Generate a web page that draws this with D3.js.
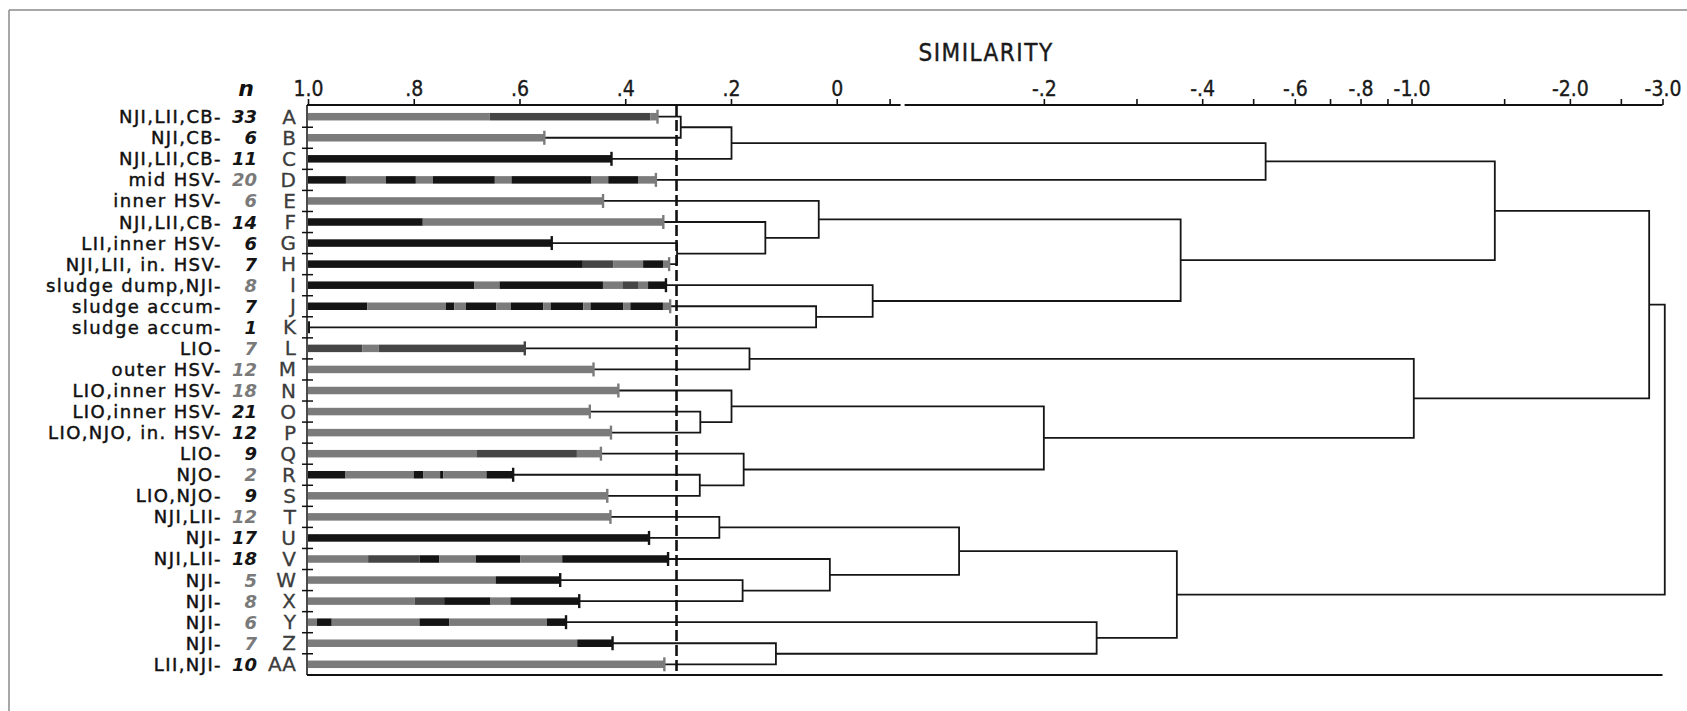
<!DOCTYPE html>
<html>
<head>
<meta charset="utf-8">
<script src="https://cdn.jsdelivr.net/npm/d3@7"></script>
<style>
  html, body { margin: 0; padding: 0; background: #fff; }
  svg { display: block; }
</style>
</head>
<body>
<svg id="chart" width="1687" height="711"></svg>
<script>
// ---- station groups (rows, top to bottom) ----
const rowIds = ["A","B","C","D","E","F","G","H","I","J","K","L","M","N","O","P","Q","R","S","T","U","V","W","X","Y","Z","AA"];

const siteLabels = [
  "NJI,LII,CB-", "NJI,CB-", "NJI,LII,CB-", "mid HSV-", "inner HSV-", "NJI,LII,CB-",
  "LII,inner HSV-", "NJI,LII, in. HSV-", "sludge dump,NJI-", "sludge accum-", "sludge accum-",
  "LIO-", "outer HSV-", "LIO,inner HSV-", "LIO,inner HSV-", "LIO,NJO, in. HSV-",
  "LIO-", "NJO-", "LIO,NJO-", "NJI,LII-", "NJI-", "NJI,LII-", "NJI-", "NJI-", "NJI-", "NJI-", "LII,NJI-"
];

// number of samples in each group
const groupSizes = [33, 6, 11, 20, 6, 14, 6, 7, 8, 7, 1, 7, 12, 18, 21, 12, 9, 2, 9, 12, 17, 18, 5, 8, 6, 7, 10];
// k = printed dark, g = printed grey
const groupSizeTone = ["k","k","k","g","g","k","k","k","g","k","k","g","g","g","k","k","k","g","k","g","k","k","g","g","g","g","k"];

// mean within-group similarity (K is a single sample)
const withinSimilarity = [0.339, 0.553, 0.426, 0.342, 0.442, 0.328, 0.539, 0.317, 0.323, 0.315, null,
  0.590, 0.460, 0.413, 0.467, 0.427, 0.446, 0.612, 0.434, 0.428, 0.355, 0.319, 0.523, 0.487, 0.512, 0.424, 0.326];

// bar make-up: [cumulative fraction of bar, tone]
const barComposition = [
  [[0.52,"g"],[0.98,"d"],[1,"g"]],
  [[1,"g"]],
  [[1,"k"]],
  [[0.109,"k"],[0.224,"g"],[0.31,"k"],[0.359,"g"],[0.537,"k"],[0.585,"g"],[0.815,"k"],[0.863,"g"],[0.95,"k"],[1,"g"]],
  [[1,"g"]],
  [[0.323,"k"],[1,"g"]],
  [[1,"k"]],
  [[0.761,"k"],[0.845,"d"],[0.928,"g"],[0.983,"k"],[1,"g"]],
  [[0.465,"k"],[0.535,"g"],[0.824,"k"],[0.88,"g"],[0.922,"d"],[0.95,"g"],[1,"k"]],
  [[0.164,"k"],[0.381,"g"],[0.404,"k"],[0.436,"g"],[0.52,"k"],[0.56,"g"],[0.65,"k"],[0.67,"g"],[0.76,"k"],[0.78,"g"],[0.87,"k"],[0.89,"g"],[0.98,"k"],[1,"g"]],
  [],
  [[0.25,"d"],[0.326,"g"],[1,"d"]],
  [[1,"g"]],
  [[1,"g"]],
  [[1,"g"]],
  [[1,"g"]],
  [[0.577,"g"],[0.918,"d"],[1,"g"]],
  [[0.183,"k"],[0.515,"g"],[0.563,"k"],[0.644,"g"],[0.66,"k"],[0.87,"g"],[1,"k"]],
  [[1,"g"]],
  [[1,"g"]],
  [[1,"k"]],
  [[0.167,"g"],[0.31,"d"],[0.365,"k"],[0.466,"g"],[0.59,"k"],[0.706,"g"],[1,"k"]],
  [[0.744,"g"],[1,"k"]],
  [[0.393,"g"],[0.502,"d"],[0.673,"k"],[0.746,"g"],[1,"k"]],
  [[0.035,"g"],[0.092,"k"],[0.432,"g"],[0.547,"k"],[0.926,"g"],[1,"k"]],
  [[0.884,"g"],[1,"k"]],
  [[1,"g"]]
];

// clustering sequence: [member, member, similarity at fusion]; "m<i>" refers to the i-th fusion
const fusions = [
  ["A", "B", 0.295],     // m0
  ["m0", "C", 0.199],    // m1
  ["m1", "D", -0.528],   // m2
  ["G", "H", 0.302],     // m3
  ["F", "m3", 0.135],    // m4
  ["E", "m4", 0.034],    // m5
  ["J", "K", 0.039],     // m6
  ["I", "m6", -0.068],   // m7
  ["m5", "m7", -0.364],  // m8
  ["m2", "m8", -1.44],   // m9
  ["L", "M", 0.165],     // m10
  ["O", "P", 0.258],     // m11
  ["N", "m11", 0.199],   // m12
  ["R", "S", 0.259],     // m13
  ["Q", "m13", 0.176],   // m14
  ["m12", "m14", -0.2],  // m15
  ["m10", "m15", -1.01], // m16
  ["m9", "m16", -2.83],  // m17
  ["T", "U", 0.222],     // m18
  ["W", "X", 0.178],     // m19
  ["V", "m19", 0.013],   // m20
  ["m18", "m20", -0.138],// m21
  ["Z", "AA", 0.115],    // m22
  ["Y", "m22", -0.252],  // m23
  ["m21", "m23", -0.358],// m24
  ["m17", "m24", -3.03]  // m25
];

const cutoffSimilarity = 0.303;

// axis ticks
const linearTicks = [1, 0.8, 0.6, 0.4, 0.2, 0, -0.1];
const linearTickLabels = ["1.0", ".8", ".6", ".4", ".2", "0", ""];
const logTicks = [0.2, 0.3, 0.4, 0.5, 0.6, 0.7, 0.8, 0.9, 1, 1.5, 2, 2.5, 3];
const logTickLabels = ["-.2", "", "-.4", "", "-.6", "", "-.8", "", "-1.0", "", "-2.0", "", "-3.0"];

// ---- drawing ----
const svg = d3.select("#chart");
const tone = { k: "#141414", d: "#454545", g: "#7b7b7b" };
const labelFont = "'DejaVu Sans', 'Liberation Sans', sans-serif";
const narrowFont = "'Liberation Sans Narrow', 'DejaVu Sans Condensed', 'Liberation Sans', sans-serif";

const axisY = 105, baseY = 675;

// similarity axis: linear down to -0.1, logarithmic in |s| beyond the break
const xLinear = d3.scaleLinear().domain([1, -0.1]).range([308, 889.6]);
const xLog = d3.scaleLog().domain([0.1, 3]).range([885.5, 1662.5]);
const x = s => (s >= -0.1 ? xLinear(s) : xLog(-s));
const y = d3.scalePoint().domain(rowIds).range([116.7, 664.3]);

// page frame
svg.append("line").attr("x1", 9).attr("x2", 1687).attr("y1", 10).attr("y2", 10)
  .attr("stroke", "#8a8a8a").attr("stroke-width", 1.5);
svg.append("line").attr("x1", 9).attr("x2", 9).attr("y1", 10).attr("y2", 711)
  .attr("stroke", "#8a8a8a").attr("stroke-width", 1.5);

// title
svg.append("text").attr("x", 986).attr("y", 61).attr("text-anchor", "middle")
  .attr("font-family", narrowFont).attr("font-size", 24).attr("letter-spacing", 1.5)
  .attr("fill", "#1a1a1a").attr("stroke", "#1a1a1a").attr("stroke-width", 0.4)
  .text("SIMILARITY");

// top axis
function styleAxis(g) {
  g.select(".domain").remove();
  g.selectAll(".tick line").attr("stroke", "#111").attr("stroke-width", 1.6);
  g.selectAll(".tick text").attr("font-family", narrowFont).attr("font-size", 21)
    .attr("fill", "#1a1a1a").attr("stroke", "#1a1a1a").attr("stroke-width", 0.35);
}
svg.append("g").attr("transform", `translate(0,${axisY})`)
  .call(d3.axisTop(xLinear).tickValues(linearTicks).tickSize(6).tickPadding(3)
    .tickFormat((d, i) => linearTickLabels[i]))
  .call(styleAxis);
svg.append("g").attr("transform", `translate(0,${axisY})`)
  .call(d3.axisTop(xLog).tickValues(logTicks).tickSize(6).tickPadding(3)
    .tickFormat((d, i) => logTickLabels[i]))
  .call(styleAxis);
// axis rule, broken just past -0.1
svg.append("line").attr("x1", xLinear(1) - 1).attr("x2", xLinear(-0.1) + 11)
  .attr("y1", axisY).attr("y2", axisY).attr("stroke", "#111").attr("stroke-width", 1.8);
svg.append("line").attr("x1", xLinear(-0.1) + 15).attr("x2", xLog(3))
  .attr("y1", axisY).attr("y2", axisY).attr("stroke", "#111").attr("stroke-width", 1.8);

// baseline and left rule
svg.append("line").attr("x1", xLinear(1) - 1).attr("x2", xLog(3))
  .attr("y1", baseY).attr("y2", baseY).attr("stroke", "#111").attr("stroke-width", 2);
svg.append("line").attr("x1", xLinear(1) - 1).attr("x2", xLinear(1) - 1)
  .attr("y1", axisY).attr("y2", baseY).attr("stroke", "#111").attr("stroke-width", 1.5);

// row separators on the left rule
const sepY = rowIds.slice(1).map((id, i) => (y(id) + y(rowIds[i])) / 2);
svg.append("g").selectAll("line").data(sepY).join("line")
  .attr("x1", xLinear(1) - 6).attr("x2", xLinear(1) + 5)
  .attr("y1", d => d).attr("y2", d => d)
  .attr("stroke", "#111").attr("stroke-width", 1.5);

// column header
svg.append("text").attr("x", 246).attr("y", 96).attr("text-anchor", "middle")
  .attr("font-family", labelFont).attr("font-size", 22).attr("font-weight", "bold")
  .attr("font-style", "italic").attr("fill", "#111").text("n");

// row labels
const rows = rowIds.map((id, i) => ({
  id, label: siteLabels[i], n: groupSizes[i], nTone: groupSizeTone[i],
  within: withinSimilarity[i], comp: barComposition[i]
}));

const labelG = svg.append("g");
labelG.selectAll("text.site").data(rows).join("text").attr("class", "site")
  .attr("x", 222).attr("y", d => y(d.id) + 6.5).attr("text-anchor", "end")
  .attr("font-family", labelFont).attr("font-size", 18).attr("letter-spacing", 1.4)
  .attr("fill", "#111").attr("stroke", "#111").attr("stroke-width", 0.45)
  .text(d => d.label);
labelG.selectAll("text.n").data(rows).join("text").attr("class", "n")
  .attr("x", 257).attr("y", d => y(d.id) + 6.5).attr("text-anchor", "end")
  .attr("font-family", labelFont).attr("font-size", 18).attr("font-weight", "bold")
  .attr("font-style", "italic").attr("fill", d => d.nTone === "k" ? "#151515" : "#7a7a7a")
  .text(d => d.n);
labelG.selectAll("text.id").data(rows).join("text").attr("class", "id")
  .attr("x", 296).attr("y", d => y(d.id) + 7).attr("text-anchor", "end")
  .attr("font-family", labelFont).attr("font-size", 20)
  .attr("fill", "#3c3c3c").attr("stroke", "#3c3c3c").attr("stroke-width", 0.3)
  .text(d => d.id);

// dendrogram nodes
const nodes = {};
rows.forEach(r => {
  nodes[r.id] = { x: r.within == null ? x(1) : x(r.within), y: y(r.id) };
});
fusions.forEach((f, i) => {
  const a = nodes[f[0]], b = nodes[f[1]];
  nodes["m" + i] = { x: x(f[2]), y: (a.y + b.y) / 2, a, b };
});

svg.append("g").selectAll("path").data(fusions.map((f, i) => nodes["m" + i])).join("path")
  .attr("d", p => `M${p.a.x},${p.a.y}H${p.x}V${p.b.y}H${p.b.x}`)
  .attr("fill", "none").attr("stroke", "#161616").attr("stroke-width", 1.8)
  .attr("stroke-linejoin", "miter");

// bars of within-group similarity
const barH = 7.5;
const barG = svg.append("g");
rows.forEach(r => {
  const y0 = y(r.id);
  if (r.within == null) {
    barG.append("line").attr("x1", x(1) + 1).attr("x2", x(1) + 1)
      .attr("y1", y0 - 6).attr("y2", y0 + 6).attr("stroke", "#161616").attr("stroke-width", 2);
    return;
  }
  const x0 = x(1), x1 = x(r.within);
  let prev = 0;
  r.comp.forEach(([end, t]) => {
    barG.append("rect")
      .attr("x", x0 + prev * (x1 - x0)).attr("width", (end - prev) * (x1 - x0))
      .attr("y", y0 - barH / 2).attr("height", barH)
      .attr("fill", tone[t]);
    prev = end;
  });
  const capTone = r.comp[r.comp.length - 1][1];
  barG.append("line").attr("x1", x1).attr("x2", x1)
    .attr("y1", y0 - 7).attr("y2", y0 + 7)
    .attr("stroke", tone[capTone]).attr("stroke-width", 2.4);
});

// cut-off level
svg.append("line").attr("x1", x(cutoffSimilarity)).attr("x2", x(cutoffSimilarity))
  .attr("y1", axisY).attr("y2", baseY)
  .attr("stroke", "#111").attr("stroke-width", 2.6).attr("stroke-dasharray", "11,4");
</script>
</body>
</html>
